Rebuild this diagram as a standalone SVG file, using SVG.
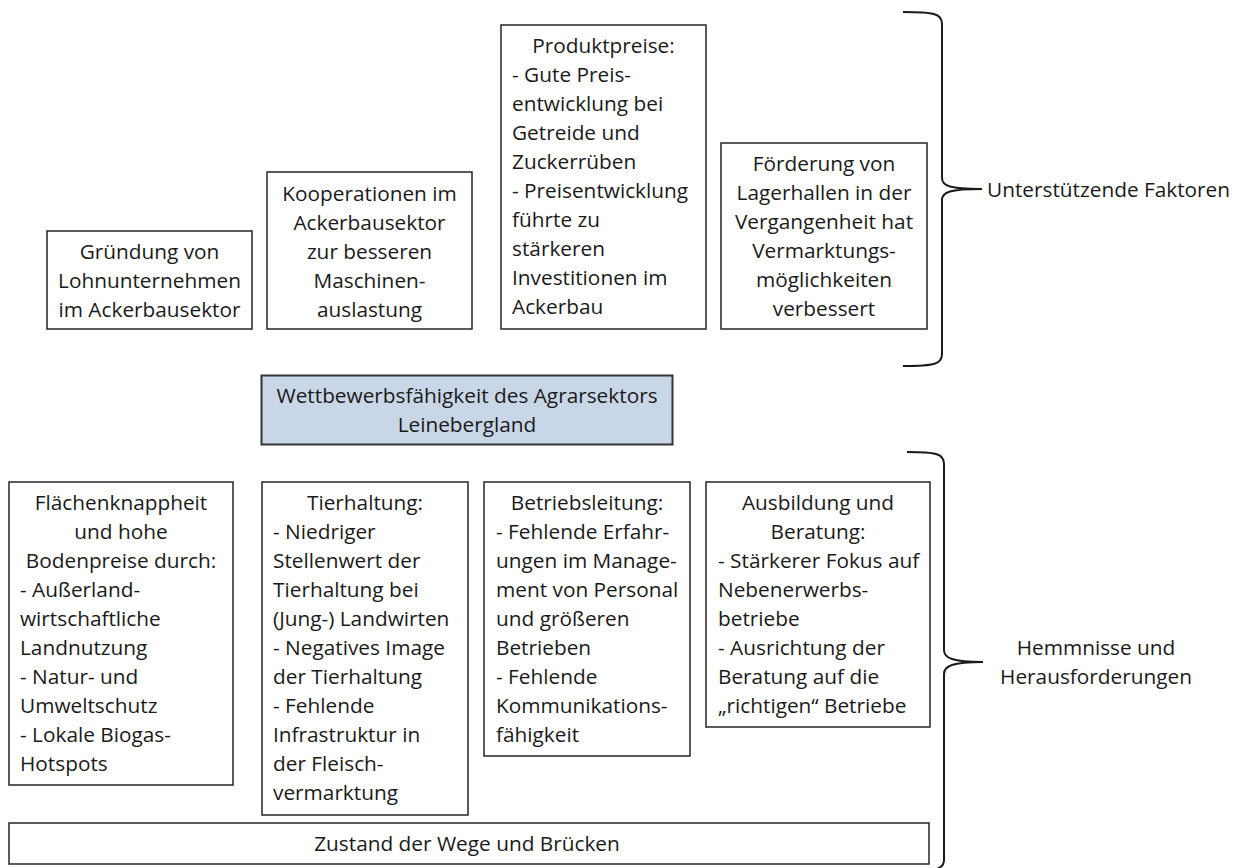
<svg xmlns="http://www.w3.org/2000/svg" width="1241" height="868" viewBox="0 0 1241 868">
<style>
  .box { fill: #ffffff; stroke: #262626; stroke-width: 1.5; }
  .core { fill: #c9d6e8; stroke: #333333; stroke-width: 2; }
  .t { font-family: "Open Sans", "Noto Sans", "Liberation Sans", sans-serif; font-size: 20.8px; fill: #1a1a1a; }
  .c { text-anchor: middle; }
  .brace { fill: none; stroke: #1a1a1a; stroke-width: 2; }
</style>
<rect width="1241" height="868" fill="#ffffff"/>

<g id="braces">
  <path class="brace" d="M903,12 C935,12 942,14 942,24 L942,178 C942,186 950,189 982,189 C950,189 942,192 942,200 L942,354 C942,364 935,366 903,366"/>
  <path class="brace" d="M907,452 C937,452 944,454 944,464 L944,650 C944,658 952,662 983,662 C952,662 944,666 944,674 L944,860 C944,868 937,872 907,872"/>
</g>

<g id="n1">
  <rect class="box" x="47" y="231" width="205" height="98"/>
  <text class="t c" x="149.5"><tspan x="149.5" y="259">Gründung von</tspan><tspan x="149.5" y="288">Lohnunternehmen</tspan><tspan x="149.5" y="317">im Ackerbausektor</tspan></text>
</g>

<g id="n2">
  <rect class="box" x="267" y="172" width="205" height="157"/>
  <text class="t c"><tspan x="369.5" y="201">Kooperationen im</tspan><tspan x="369.5" y="230">Ackerbausektor</tspan><tspan x="369.5" y="259">zur besseren</tspan><tspan x="369.5" y="288">Maschinen-</tspan><tspan x="369.5" y="317">auslastung</tspan></text>
</g>

<g id="n3">
  <rect class="box" x="501" y="25" width="205" height="304"/>
  <text class="t c" x="603.5" y="53">Produktpreise:</text>
  <text class="t"><tspan x="512" y="82">- Gute Preis-</tspan><tspan x="512" y="111">entwicklung bei</tspan><tspan x="512" y="140">Getreide und</tspan><tspan x="512" y="169">Zuckerrüben</tspan><tspan x="512" y="198">- Preisentwicklung</tspan><tspan x="512" y="227">führte zu</tspan><tspan x="512" y="256">stärkeren</tspan><tspan x="512" y="285">Investitionen im</tspan><tspan x="512" y="314">Ackerbau</tspan></text>
</g>

<g id="n4">
  <rect class="box" x="721" y="143" width="206" height="186"/>
  <text class="t c"><tspan x="824" y="171">Förderung von</tspan><tspan x="824" y="200">Lagerhallen in der</tspan><tspan x="824" y="229">Vergangenheit hat</tspan><tspan x="824" y="258">Vermarktungs-</tspan><tspan x="824" y="287">möglichkeiten</tspan><tspan x="824" y="316">verbessert</tspan></text>
</g>

<g id="label-support">
  <text class="t" x="987" y="197">Unterstützende Faktoren</text>
</g>

<g id="center">
  <rect class="core" x="261.5" y="375.5" width="411" height="69"/>
  <text class="t c"><tspan x="467" y="403">Wettbewerbsfähigkeit des Agrarsektors</tspan><tspan x="467" y="432">Leinebergland</tspan></text>
</g>

<g id="n5">
  <rect class="box" x="9" y="482" width="224" height="303"/>
  <text class="t c"><tspan x="121" y="510">Flächenknappheit</tspan><tspan x="121" y="539">und hohe</tspan><tspan x="121" y="568">Bodenpreise  durch:</tspan></text>
  <text class="t"><tspan x="20" y="597">- Außerland-</tspan><tspan x="20" y="626">wirtschaftliche</tspan><tspan x="20" y="655">Landnutzung</tspan><tspan x="20" y="684">- Natur- und</tspan><tspan x="20" y="713">Umweltschutz</tspan><tspan x="20" y="742">- Lokale Biogas-</tspan><tspan x="20" y="771">Hotspots</tspan></text>
</g>

<g id="n6">
  <rect class="box" x="262" y="482" width="206" height="333"/>
  <text class="t c" x="365" y="510">Tierhaltung:</text>
  <text class="t"><tspan x="273" y="539">- Niedriger</tspan><tspan x="273" y="568">Stellenwert der</tspan><tspan x="273" y="597">Tierhaltung bei</tspan><tspan x="273" y="626">(Jung-) Landwirten</tspan><tspan x="273" y="655">- Negatives Image</tspan><tspan x="273" y="684">der Tierhaltung</tspan><tspan x="273" y="713">- Fehlende</tspan><tspan x="273" y="742">Infrastruktur in</tspan><tspan x="273" y="771">der Fleisch-</tspan><tspan x="273" y="800">vermarktung</tspan></text>
</g>

<g id="n7">
  <rect class="box" x="484" y="482" width="206" height="274"/>
  <text class="t c" x="587" y="510">Betriebsleitung:</text>
  <text class="t"><tspan x="496" y="539">- Fehlende Erfahr-</tspan><tspan x="496" y="568">ungen im Manage-</tspan><tspan x="496" y="597">ment von Personal</tspan><tspan x="496" y="626">und größeren</tspan><tspan x="496" y="655">Betrieben</tspan><tspan x="496" y="684">- Fehlende</tspan><tspan x="496" y="713">Kommunikations-</tspan><tspan x="496" y="742">fähigkeit</tspan></text>
</g>

<g id="n8">
  <rect class="box" x="706" y="482" width="224" height="245"/>
  <text class="t c"><tspan x="818" y="510">Ausbildung und</tspan><tspan x="818" y="539">Beratung:</tspan></text>
  <text class="t"><tspan x="718" y="568">- Stärkerer Fokus auf</tspan><tspan x="718" y="597">Nebenerwerbs-</tspan><tspan x="718" y="626">betriebe</tspan><tspan x="718" y="655">- Ausrichtung der</tspan><tspan x="718" y="684">Beratung auf die</tspan><tspan x="718" y="713">„richtigen“ Betriebe</tspan></text>
</g>

<g id="n9">
  <rect class="box" x="9" y="823" width="920" height="41"/>
  <text class="t c" x="467" y="851">Zustand der Wege und Brücken</text>
</g>

<g id="label-obstacles">
  <text class="t c"><tspan x="1096" y="655">Hemmnisse und</tspan><tspan x="1096" y="684">Herausforderungen</tspan></text>
</g>
</svg>
